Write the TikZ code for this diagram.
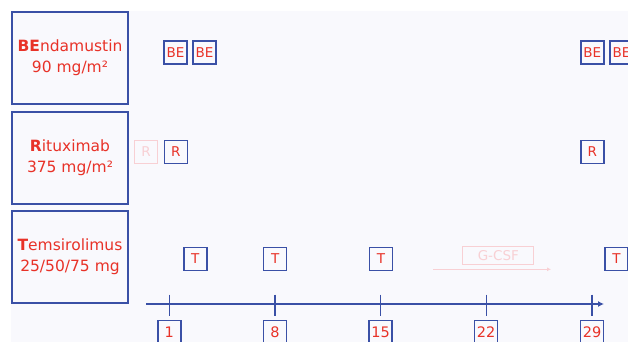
\documentclass[tikz,border=0pt]{standalone}
\usepackage{fontspec}
\setmainfont{DejaVu Sans}
\usetikzlibrary{arrows.meta}
\definecolor{bblue}{RGB}{58,80,166}
\definecolor{rred}{RGB}{232,50,40}
\definecolor{fade}{RGB}{248,208,212}
\definecolor{bg}{RGB}{249,249,253}
\tikzset{
  drugbox/.style={draw=bblue, line width=1.8pt, minimum width=116pt, minimum height=92pt, inner sep=0pt, align=center, text=rred, font=\fontsize{15.5}{21}\selectfont},
  dose/.style={draw=bblue, line width=1.4pt, minimum width=23pt, minimum height=23pt, inner sep=0pt, text=rred, font=\fontsize{13.5}{14}\selectfont},
  fdose/.style={draw=fade, line width=1.2pt, minimum width=23pt, minimum height=23pt, inner sep=0pt, text=fade, font=\fontsize{13.5}{14}\selectfont},
  daybox/.style={draw=bblue, line width=1.4pt, minimum width=23pt, minimum height=23pt, inner sep=0pt, text=rred, font=\fontsize{14.5}{15}\selectfont},
  axisline/.style={draw=bblue, line width=1.4pt},
}
\begin{document}
\begin{tikzpicture}[x=1pt,y=-1pt]
\clip (0,0) rectangle (628,342);
\fill[bg] (11,11) rectangle (628,342);
% drug boxes
\node[drugbox] (ben) at (70,58) {\textbf{BE}ndamustin\\90 mg/m²};
\node[drugbox] (rit) at (70,158) {\textbf{R}ituximab\\375 mg/m²};
\node[drugbox] (tem) at (70,257) {\textbf{T}emsirolimus\\25/50/75 mg};
% BE doses
\node[dose] (be1) at (175.5,52.5) {BE};
\node[dose] (be2) at (204.5,52.5) {BE};
\node[dose] (be3) at (592.3,52.5) {BE};
\node[dose] (be4) at (621.5,52.5) {BE};
% R doses
\node[fdose] (r0) at (146,152) {R};
\node[dose] (r1) at (175.7,152) {R};
\node[dose] (r2) at (592.3,152) {R};
% T doses
\node[dose] (t1) at (195.3,258.7) {T};
\node[dose] (t2) at (275.2,258.7) {T};
\node[dose] (t3) at (381,258.7) {T};
\node[dose] (t4) at (616.5,258.7) {T};
% G-CSF
\node[draw=fade, line width=1.2pt, minimum width=71pt, minimum height=18pt, inner sep=0pt, text=fade, font=\fontsize{13.5}{14}\selectfont] (gcsf) at (498.3,255.2) {G-CSF};
\coordinate (g0) at (433.3,269.3);
\coordinate (g1) at (551,269.3);
\draw[fade, line width=1pt, -{Latex[length=4pt,width=4pt]}] (g0) -- (g1);
% axis
\coordinate (ax0) at (146,304);
\coordinate (ax1) at (604,304);
\draw[axisline, -{Latex[length=6pt,width=6pt]}] (ax0) -- (ax1);
\foreach \n/\x in {1/169.3,8/274.9,15/380.6,22/486.2,29/592}{
  \coordinate (tk\n) at (\x,304);
  \draw[axisline] (tk\n) ++(0,-9.5) -- ++(0,21);
  \node[daybox] (d\n) at (\x,332) {\n};
}
\end{tikzpicture}
\end{document}
